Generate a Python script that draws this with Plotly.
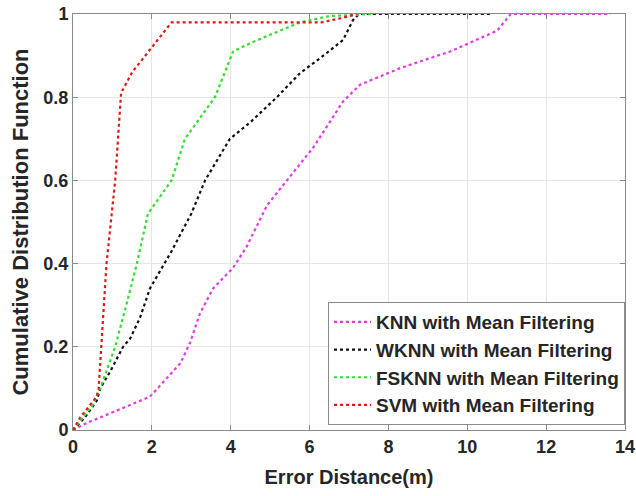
import plotly.graph_objects as go

# ---- data ----
knn_x = [0, 0.35, 0.94, 1.95, 2.72, 2.97, 3.22, 3.55, 4.06, 4.4, 4.92, 5.5, 6.1, 6.85, 7.28, 8.3, 9.57, 10.76, 11.1, 13.63]
knn_y = [0, 0.017, 0.04, 0.08, 0.16, 0.21, 0.28, 0.34, 0.39, 0.44, 0.54, 0.61, 0.68, 0.79, 0.83, 0.87, 0.91, 0.96, 1.0, 1.0]

wknn_x = [0, 0.3, 0.6, 0.69, 0.94, 1.27, 1.45, 1.7, 1.95, 2.5, 3.0, 3.35, 3.98, 4.5, 5.17, 5.76, 6.27, 6.85, 7.1, 7.25, 10.6]
wknn_y = [0, 0.03, 0.07, 0.10, 0.14, 0.20, 0.22, 0.27, 0.34, 0.43, 0.52, 0.60, 0.70, 0.74, 0.80, 0.858, 0.894, 0.9375, 0.985, 1.0, 1.0]

fsknn_x = [0, 0.5, 0.69, 1.07, 1.35, 1.62, 1.9, 2.5, 2.84, 3.6, 4.06, 4.5, 5.0, 5.76, 6.5, 7.6]
fsknn_y = [0, 0.06, 0.10, 0.20, 0.30, 0.40, 0.52, 0.60, 0.70, 0.80, 0.91, 0.93, 0.95, 0.98, 0.995, 1.0]

svm_x = [0, 0.18, 0.6, 0.65, 0.85, 1.07, 1.22, 1.5, 2.0, 2.5, 6.3, 6.8, 7.2]
svm_y = [0, 0.03, 0.08, 0.10, 0.40, 0.60, 0.81, 0.86, 0.92, 0.98, 0.98, 0.99, 1.0]

names = ["KNN with Mean Filtering", "WKNN with Mean Filtering",
         "FSKNN with Mean Filtering", "SVM with Mean Filtering"]
colors = ["#e23be2", "#111111", "#2ee02e", "#e01818"]

x_ticks = [0, 2, 4, 6, 8, 10, 12, 14]
x_tick_labels = ["0", "2", "4", "6", "8", "10", "12", "14"]
y_ticks = [0, 0.2, 0.4, 0.6, 0.8, 1]
y_tick_labels = ["0", "0.2", "0.4", "0.6", "0.8", "1"]

FONT = "Liberation Sans, Arial"
TXT = "#262626"

fig = go.Figure()
for xs, ys, nm, c in zip([knn_x, wknn_x, fsknn_x, svm_x],
                         [knn_y, wknn_y, fsknn_y, svm_y], names, colors):
    fig.add_trace(go.Scatter(x=xs, y=ys, mode="lines", name="<b>%s</b>" % nm,
                             line=dict(color=c, width=2.2, dash="dot")))

axis_common = dict(showgrid=True, gridcolor="#e6e6e6", gridwidth=1,
                   showline=True, linecolor="#8a8a8a", linewidth=1,
                   mirror="ticks", ticks="inside", ticklen=5, tickcolor="#8a8a8a",
                   zeroline=False, automargin=False,
                   tickfont=dict(family=FONT, size=18, color=TXT))

fig.update_xaxes(range=[0, 14], tickvals=x_ticks,
                 ticktext=["<b>%s</b>" % t for t in x_tick_labels],
                 title=dict(text="<b>Error Distance(m)</b>", standoff=14,
                            font=dict(family=FONT, size=20, color=TXT)),
                 **axis_common)
fig.update_yaxes(range=[0, 1], tickvals=y_ticks,
                 ticktext=["<b>%s</b>" % t for t in y_tick_labels],
                 title=dict(text="<b>Cumulative Distribution Function</b>", standoff=8,
                            font=dict(family=FONT, size=22, color=TXT)),
                 **axis_common)

fig.update_layout(
    width=636, height=496,
    margin=dict(l=73, r=11, t=14, b=66),
    paper_bgcolor="white", plot_bgcolor="white",
    font=dict(family=FONT, color=TXT),
    legend=dict(x=1, xanchor="right", y=0.012, yanchor="bottom",
                bgcolor="white", bordercolor="#8a8a8a", borderwidth=1,
                font=dict(family=FONT, size=19, color=TXT),
                itemwidth=37, tracegroupgap=0),
)

fig.write_html("out.html", post_script="document.body.style.margin='0';",
               config={"displayModeBar": False})
